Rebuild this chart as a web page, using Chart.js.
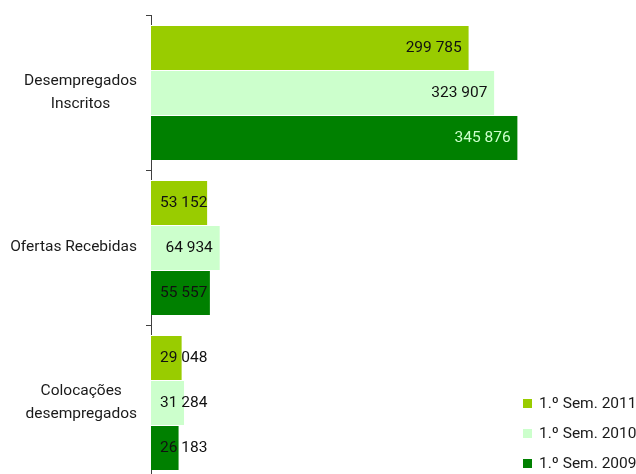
<!DOCTYPE html>
<html>
<head>
<meta charset="utf-8">
<script src="https://cdn.jsdelivr.net/npm/chart.js@4"></script>
<style>
  html, body { margin: 0; padding: 0; background: #fff; overflow: hidden; }
  #wrap { position: relative; width: 636px; height: 480px; }
</style>
</head>
<body>
<div id="wrap"><canvas id="chart"></canvas></div>
<script>
// --- data --- //
const categories = [['Desempregados', 'Inscritos'], ['Ofertas Recebidas'], ['Colocações', 'desempregados']];
const seriesNames = ['1.º Sem. 2011', '1.º Sem. 2010', '1.º Sem. 2009'];
const sem2011 = [299785, 53152, 29048];
const sem2010 = [323907, 64934, 31284];
const sem2009 = [345876, 55557, 26183];
const colors = ['#99cc00', '#ccffcc', '#008000'];

const FONT = '15.5px Roboto, "Liberation Sans", sans-serif';

function fmt(v) {
    return String(v).replace(/\B(?=(\d{3})+(?!\d))/g, ' ');
}

// category labels: block right aligned, lines centered inside the block
const categoryLabels = {
    id: 'categoryLabels',
    afterDraw(chart) {
        const ctx = chart.ctx;
        const y = chart.scales.y;
        ctx.save();
        ctx.font = FONT;
        ctx.fillStyle = '#1a1a1a';
        ctx.textAlign = 'center';
        ctx.textBaseline = 'middle';
        categories.forEach((lines, i) => {
            const cy = y.getPixelForValue(i);
            const widest = Math.max(...lines.map(l => ctx.measureText(l).width));
            const cx = y.right - 14 - widest / 2;
            const lh = 23;
            lines.forEach((l, k) => {
                ctx.fillText(l, cx, cy + (k - (lines.length - 1) / 2) * lh);
            });
        });
        ctx.restore();
    }
};

// value labels at the inside end of each bar
const valueLabels = {
    id: 'valueLabels',
    afterDatasetsDraw(chart) {
        const ctx = chart.ctx;
        const base = chart.scales.x.getPixelForValue(0);
        ctx.save();
        ctx.font = FONT;
        ctx.textBaseline = 'middle';
        ctx.textAlign = 'left';
        chart.data.datasets.forEach((ds, di) => {
            chart.getDatasetMeta(di).data.forEach((bar, i) => {
                const txt = fmt(ds.data[i]);
                const w = ctx.measureText(txt).width;
                let left = bar.x - 7 - w;
                if (left < base + 9) left = base + 9;
                ctx.fillStyle = (di === 2 && bar.x - base > 100) ? '#ccffcc' : '#111';
                ctx.fillText(txt, left, bar.y + 1);
            });
        });
        ctx.restore();
    }
};

// legend in the lower right corner
const cornerLegend = {
    id: 'cornerLegend',
    afterDraw(chart) {
        const ctx = chart.ctx;
        ctx.save();
        ctx.font = FONT;
        ctx.textBaseline = 'middle';
        ctx.textAlign = 'left';
        seriesNames.forEach((name, i) => {
            const cy = 404 + i * 30;
            ctx.fillStyle = colors[i];
            ctx.fillRect(523, cy - 5, 9, 9);
            ctx.fillStyle = '#1a1a1a';
            ctx.fillText(name, 539, cy);
        });
        ctx.restore();
    }
};

const series = [sem2011, sem2010, sem2009];

new Chart(document.getElementById('chart'), {
    type: 'bar',
    data: {
        labels: categories.map(c => c.join(' ')),
        datasets: series.map((d, i) => ({
            label: seriesNames[i],
            data: d,
            backgroundColor: colors[i],
            borderColor: '#ffffff',
            borderWidth: { top: 1, bottom: 0, left: 0, right: 0 },
            borderSkipped: false,
            categoryPercentage: 0.87,
            barPercentage: 1.0
        }))
    },
    options: {
        indexAxis: 'y',
        responsive: true,
        maintainAspectRatio: false,
        animation: false,
        layout: { padding: { top: 15, right: 61, bottom: 0, left: 0 } },
        plugins: {
            legend: { display: false },
            tooltip: { enabled: false }
        },
        scales: {
            x: {
                display: false,
                min: 0,
                max: 400000
            },
            y: {
                afterFit: s => { s.width = 151; },
                grid: {
                    offset: true,
                    drawOnChartArea: false,
                    drawTicks: true,
                    tickLength: 5,
                    color: '#404040'
                },
                border: { color: '#404040', width: 1 },
                ticks: { display: false }
            }
        }
    },
    plugins: [categoryLabels, valueLabels, cornerLegend]
});
</script>
</body>
</html>
